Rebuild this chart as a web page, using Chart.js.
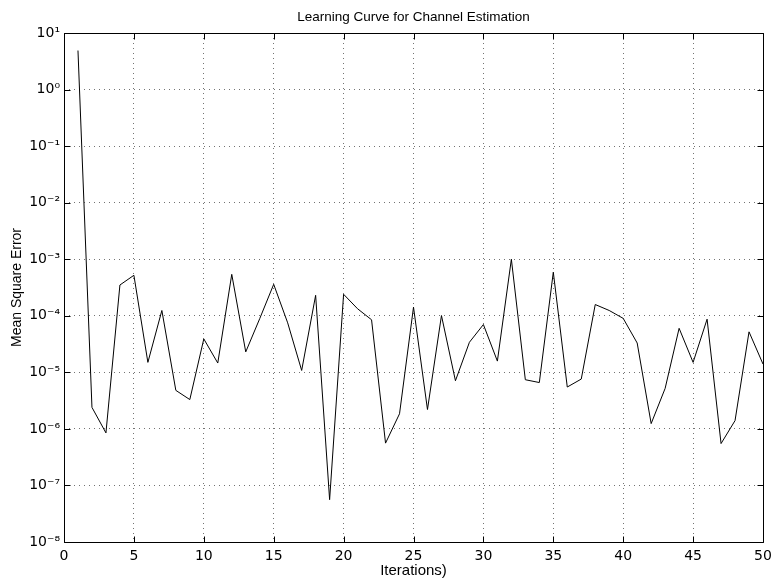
<!DOCTYPE html>
<html>
<head>
<meta charset="utf-8">
<script src="https://cdn.jsdelivr.net/npm/chart.js@4/dist/chart.umd.min.js"></script>
<style>
html,body{margin:0;padding:0;background:#fff;}
canvas{display:block;}
</style>
</head>
<body>
<canvas id="c" width="772" height="578"></canvas>
<script>
// ---- data ----
const chartTitle = 'Learning Curve for Channel Estimation';
const xAxisTitle = 'Iterations)';
const yAxisTitle = 'Mean Square Error';
const iterations = [1,2,3,4,5,6,7,8,9,10,11,12,13,14,15,16,17,18,19,20,21,22,23,24,25,26,27,28,29,30,31,32,33,34,35,36,37,38,39,40,41,42,43,44,45,46,47,48,49,50];
const mse = [4.9, 2.4e-6, 8.5e-7, 3.5e-4, 5.2e-4, 1.5e-5, 1.24e-4, 4.8e-6, 3.3e-6, 3.9e-5,
             1.46e-5, 5.4e-4, 2.3e-5, 8.9e-5, 3.6e-4, 7.5e-5, 1.08e-5, 2.3e-4, 5.6e-8, 2.4e-4,
             1.33e-4, 8.5e-5, 5.6e-7, 1.85e-6, 1.42e-4, 2.2e-6, 1.01e-4, 7.1e-6, 3.4e-5, 7.0e-5,
             1.58e-5, 1.0e-3, 7.4e-6, 6.6e-6, 5.9e-4, 5.5e-6, 7.6e-6, 1.58e-4, 1.24e-4, 9.0e-5,
             3.3e-5, 1.24e-6, 5.2e-6, 6.0e-5, 1.5e-5, 8.7e-5, 5.5e-7, 1.4e-6, 5.2e-5, 1.4e-5];
const xTicks = [0,5,10,15,20,25,30,35,40,45,50];
const yTickExponents = [-8,-7,-6,-5,-4,-3,-2,-1,0,1];

// ---- helpers ----
const SUP = {'-':'\u207B','0':'\u2070','1':'\u00B9','2':'\u00B2','3':'\u00B3','4':'\u2074','5':'\u2075','6':'\u2076','7':'\u2077','8':'\u2078','9':'\u2079'};
function powLabel(e){ return '10' + String(e).split('').map(c => SUP[c]).join(''); }

const TICKFONT = 'DejaVu Sans';
const TEXTFONT = '"Liberation Sans", Arial, sans-serif';

const framePlugin = {
  id: 'frame',
  afterDatasetsDraw(chart) {
    const {ctx, chartArea: a, scales} = chart;
    const L = Math.round(a.left) + 0.5, R = Math.round(a.right) + 0.5;
    const T = Math.round(a.top) + 0.5, B = Math.round(a.bottom) + 0.5;
    ctx.save();
    ctx.strokeStyle = '#000';
    ctx.lineWidth = 1;
    ctx.setLineDash([]);
    ctx.beginPath();
    ctx.rect(L, T, R - L, B - T);
    ctx.stroke();
    const tl = 6;
    ctx.beginPath();
    scales.x.ticks.forEach(t => {
      const px = Math.round(scales.x.getPixelForValue(t.value)) + 0.5;
      ctx.moveTo(px, B); ctx.lineTo(px, B - tl);
      ctx.moveTo(px, T); ctx.lineTo(px, T + tl);
    });
    scales.y.ticks.forEach(t => {
      const py = Math.round(scales.y.getPixelForValue(t.value)) + 0.5;
      ctx.moveTo(L, py); ctx.lineTo(L + tl, py);
      ctx.moveTo(R, py); ctx.lineTo(R - tl, py);
    });
    ctx.stroke();
    ctx.restore();
  }
};

new Chart(document.getElementById('c'), {
  type: 'line',
  data: {
    datasets: [{
      data: iterations.map((x, i) => ({x: x, y: mse[i]})),
      borderColor: '#000',
      borderWidth: 1,
      pointRadius: 0,
      tension: 0,
      fill: false
    }]
  },
  options: {
    responsive: false,
    devicePixelRatio: 1,
    animation: false,
    layout: {padding: {left: 0, right: 9, top: 0, bottom: 0}},
    plugins: {
      legend: {display: false},
      tooltip: {enabled: false},
      title: {
        display: true,
        fullSize: false,
        text: chartTitle,
        color: '#000',
        font: {family: TEXTFONT, size: 13.5, weight: 'normal', lineHeight: 1.2},
        padding: {top: 9, bottom: 7.8}
      }
    },
    scales: {
      x: {
        type: 'linear',
        min: 0, max: 50,
        afterBuildTicks: s => { s.ticks = xTicks.map(v => ({value: v})); },
        afterFit: s => { s.height = 36; s.paddingLeft = 0; s.paddingRight = 0; },
        ticks: {
          color: '#000', font: {family: TICKFONT, size: 14}, padding: 6,
          maxRotation: 0, autoSkip: false,
          callback: v => String(v)
        },
        grid: {color: 'rgba(0,0,0,0.55)', lineWidth: 1, drawTicks: false},
        border: {display: false, dash: [1, 4]},
        title: {
          display: true, text: xAxisTitle, color: '#000',
          font: {family: TEXTFONT, size: 15, lineHeight: 1.2},
          padding: {top: 0, bottom: -2}
        }
      },
      y: {
        type: 'logarithmic',
        min: 1e-8, max: 10,
        afterBuildTicks: s => { s.ticks = yTickExponents.map(e => ({value: Math.pow(10, e)})); },
        afterFit: s => { s.width = 64; s.paddingTop = 0; s.paddingBottom = 0; },
        ticks: {
          color: '#000', font: {family: TICKFONT, size: 14}, padding: 4,
          autoSkip: false,
          callback: v => powLabel(Math.round(Math.log10(v)))
        },
        grid: {color: 'rgba(0,0,0,0.55)', lineWidth: 1, drawTicks: false},
        border: {display: false, dash: [1, 4]},
        title: {
          display: true, text: yAxisTitle, color: '#000',
          font: {family: TEXTFONT, size: 14, lineHeight: 1.2},
          padding: {top: 9, bottom: 0}
        }
      }
    }
  },
  plugins: [framePlugin]
});
</script>
</body>
</html>
